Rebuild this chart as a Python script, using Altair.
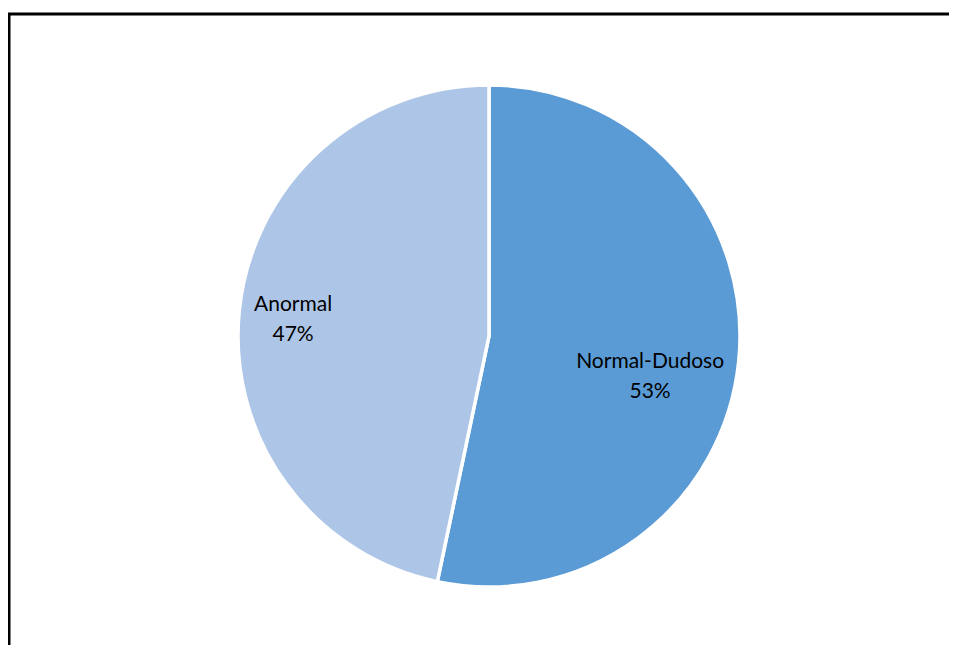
import altair as alt
import pandas as pd

categories = ["Normal-Dudoso", "Anormal"]
values = [53.3, 46.7]
pct_labels = ["53%", "47%"]
colors = ["#5B9BD5", "#ADC6E7"]

df = pd.DataFrame({
    "cat": categories,
    "val": values,
    "order": list(range(len(categories))),
    "label": [f"{c}\n{p}" for c, p in zip(categories, pct_labels)],
})

CX, CY = 481, 328
TOTAL = sum(values)

pie = alt.Chart(df).mark_arc(outerRadius=251, stroke="white", strokeWidth=3.5).encode(
    theta=alt.Theta("val:Q", stack=True),
    order=alt.Order("order:Q"),
    color=alt.Color("cat:N", scale=alt.Scale(domain=categories, range=colors), legend=None),
    x=alt.value(CX),
    y=alt.value(CY),
)

text_style = dict(font="Lato", fontSize=21, lineBreak="\n", lineHeight=30,
                  color="black", baseline="middle", align="center")

tbase = alt.Chart(df).transform_window(
    cum="sum(val)", sort=[alt.SortField("order")]
).transform_calculate(
    mid="datum.cum - datum.val / 2"
)

def label_layer(cat, radius, dx, dy):
    return tbase.transform_filter(alt.datum.cat == cat).mark_text(
        radius=radius, dx=dx, dy=dy, **text_style
    ).encode(
        theta=alt.Theta("mid:Q", scale=alt.Scale(domain=[0, TOTAL])),
        text="label:N",
        x=alt.value(CX),
        y=alt.value(CY),
    )

text1 = label_layer(categories[0], 166, -4, 9)
text2 = label_layer(categories[1], 196, -1, -11)

frame_df = pd.DataFrame({"k": [0]})
frame = alt.Chart(frame_df).mark_rect(fill=None, stroke="black", strokeWidth=3).encode(
    x=alt.value(1), x2=alt.value(1200), y=alt.value(6), y2=alt.value(900),
)

chart = alt.layer(frame, pie, text1, text2).properties(
    width=941, height=637,
    padding=0,
    autosize=alt.AutoSizeParams(type="none"),
).resolve_scale(theta="independent").configure_view(stroke=None)

chart.save("out.html", embed_options={"renderer": "svg", "actions": False})
